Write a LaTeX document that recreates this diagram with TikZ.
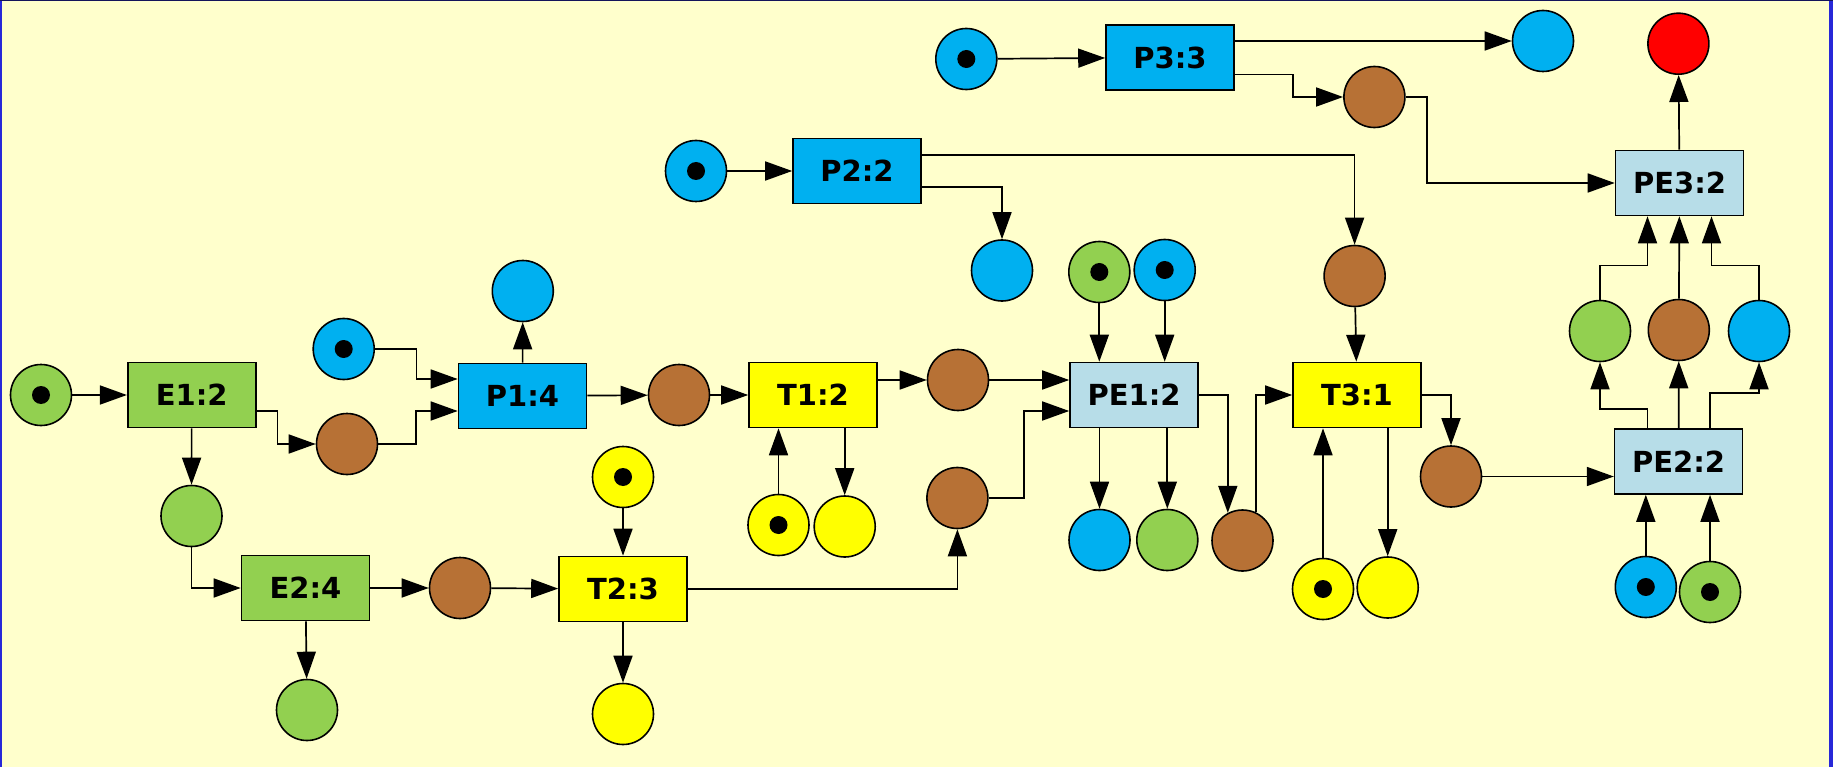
\documentclass[tikz,border=0pt]{standalone}
\usepackage{fontspec}
\setsansfont{DejaVu Sans}
\usetikzlibrary{arrows.meta,calc}

\definecolor{bgyellow}{RGB}{255,255,204}
\definecolor{pgreen}{RGB}{146,208,80}
\definecolor{pblue}{RGB}{0,176,240}
\definecolor{pbrown}{RGB}{183,113,53}
\definecolor{pyellow}{RGB}{255,255,0}
\definecolor{pred}{RGB}{255,0,0}
\definecolor{plight}{RGB}{183,221,232}
\definecolor{frameblue}{RGB}{40,40,216}
\definecolor{framenavy}{RGB}{20,20,90}

\tikzset{
  place/.style={circle, draw, line width=1.6pt, minimum size=61pt, inner sep=0pt},
  token/.style={place, path picture={\fill[black] (path picture bounding box.center) circle (9pt);}},
  trans/.style={rectangle, draw, line width=1.6pt, minimum width=128pt, minimum height=65pt,
    font=\sffamily\bfseries\fontsize{29}{32}\selectfont},
  flow/.style={-{Triangle[length=27pt,width=19pt]}, line width=1.7pt}
}

\begin{document}
\begin{tikzpicture}[x=1pt, y=-1pt]
    % Background and frame
    \useasboundingbox (0,0) rectangle (1833,767);
    \fill[bgyellow] (0,0) rectangle (1833,767);
    \fill[frameblue] (0,0) rectangle (2,767);
    \fill[frameblue] (1829,0) rectangle (1833,767);
    \fill[framenavy] (0,0) rectangle (1833,1.5);

    % Transitions
    \node[trans, fill=pgreen] (E1) at (191.7,395) {E1:2};
    \node[trans, fill=pgreen] (E2) at (305.5,588) {E2:4};
    \node[trans, fill=pblue] (P1) at (522.5,396) {P1:4};
    \node[trans, fill=pblue] (P2) at (857,171) {P2:2};
    \node[trans, fill=pblue] (P3) at (1170,57.5) {P3:3};
    \node[trans, fill=pyellow] (T1) at (813,395) {T1:2};
    \node[trans, fill=pyellow] (T2) at (623,589) {T2:3};
    \node[trans, fill=pyellow] (T3) at (1357,395) {T3:1};
    \node[trans, fill=plight] (PE1) at (1134,395) {PE1:2};
    \node[trans, fill=plight] (PE2) at (1678.6,461.5) {PE2:2};
    \node[trans, fill=plight] (PE3) at (1679.5,183) {PE3:2};

    % Places
    \node[token, fill=pgreen] (gIn) at (41,395) {};
    \node[place, fill=pbrown] (brE1) at (347,444) {};
    \node[place, fill=pgreen] (gE1) at (191.5,516) {};
    \node[place, fill=pgreen] (gE2) at (307,710) {};
    \node[place, fill=pbrown] (brE2) at (460,588) {};
    \node[token, fill=pyellow] (yT2in) at (623,477) {};
    \node[place, fill=pyellow] (yT2out) at (623,714) {};
    \node[token, fill=pblue] (bP1in) at (343.7,349) {};
    \node[place, fill=pblue] (bP1out) at (522.8,291) {};
    \node[place, fill=pbrown] (brP1) at (679,395) {};
    \node[token, fill=pyellow] (yT1in) at (778.5,525) {};
    \node[place, fill=pyellow] (yT1out) at (844.7,526.5) {};
    \node[place, fill=pbrown] (brT1) at (958,380) {};
    \node[place, fill=pbrown] (brT2) at (957.4,498) {};
    \node[token, fill=pgreen] (gPE1in) at (1099.3,272) {};
    \node[token, fill=pblue] (bPE1in) at (1164.7,270) {};
    \node[place, fill=pblue] (bPE1out) at (1099.5,540) {};
    \node[place, fill=pgreen] (gPE1out) at (1167.3,540) {};
    \node[place, fill=pbrown] (brPE1) at (1242.5,540.5) {};
    \node[token, fill=pblue] (bP2in) at (696,171) {};
    \node[place, fill=pblue] (bP2out) at (1002,270.5) {};
    \node[token, fill=pblue] (bP3in) at (966.3,59) {};
    \node[place, fill=pblue] (bP3out) at (1543,41) {};
    \node[place, fill=pbrown] (brP3) at (1374.4,97) {};
    \node[place, fill=pbrown] (brT3in) at (1354.6,276) {};
    \node[token, fill=pyellow] (yT3in) at (1323,589) {};
    \node[place, fill=pyellow] (yT3out) at (1387.7,587.5) {};
    \node[place, fill=pbrown] (brT3) at (1451,476.5) {};
    \node[token, fill=pblue] (bPE2in) at (1645.8,587) {};
    \node[token, fill=pgreen] (gPE2in) at (1710,592) {};
    \node[place, fill=pgreen] (gPE3) at (1600,331) {};
    \node[place, fill=pbrown] (brPE3) at (1678.8,330) {};
    \node[place, fill=pblue] (bPE3) at (1759,331) {};
    \node[place, fill=pred] (red) at (1678.4,43.7) {};

    % E part
    \draw[flow] (gIn) -- (E1);
    \draw[flow] ($(E1.east)+(0,16)$) -- ++(21,0) |- (brE1);
    \draw[flow] (E1) -- (gE1);
    \draw[flow] (gE1) |- (E2);
    \draw[flow] (E2) -- (brE2);
    \draw[flow] (E2) -- (gE2);

    % T2
    \draw[flow] (brE2) -- (T2);
    \draw[flow] (yT2in) -- (T2);
    \draw[flow] (T2) -- (yT2out);
    \draw[flow] (T2) -| (brT2);

    % P1 and T1
    \draw[flow] (bP1in) -- ++(72.7,0) |- ($(P1.west)+(0,-17)$);
    \draw[flow] (brE1) -- ++(69,0) |- ($(P1.west)+(0,15)$);
    \draw[flow] (P1) -- (bP1out);
    \draw[flow] (P1) -- (brP1);
    \draw[flow] (brP1) -- (T1);
    \draw[flow] (T1.east |- brT1) -- (brT1);
    \draw[flow] (yT1in) -- (yT1in |- T1.south);
    \draw[flow] (yT1out |- T1.south) -- (yT1out);

    % PE1
    \draw[flow] (brT1) -- (brT1 -| PE1.west);
    \draw[flow] (brT2) -- ++(66.6,0) |- ($(PE1.west)+(0,16)$);
    \draw[flow] (gPE1in) -- (gPE1in |- PE1.north);
    \draw[flow] (bPE1in) -- (bPE1in |- PE1.north);
    \draw[flow] (bPE1out |- PE1.south) -- (bPE1out);
    \draw[flow] (gPE1out |- PE1.south) -- (gPE1out);
    \draw[flow] (PE1) -| (brPE1.118);
    \draw[flow] (brPE1.64) |- (T3);

    % P2 and P3
    \draw[flow] (bP2in) -- (P2);
    \draw[flow] ($(P2.east)+(0,16)$) -| (bP2out);
    \draw[flow] ($(P2.east)+(0,-16)$) -| (brT3in);
    \draw[flow] (bP3in) -- (P3);
    \draw[flow] (P3.east |- bP3out) -- (bP3out);
    \draw[flow] ($(P3.east)+(0,17)$) -- ++(58,0) |- (brP3);
    \draw[flow] (brP3) -- ++(52.5,0) |- (PE3);

    % T3
    \draw[flow] (brT3in) -- (T3);
    \draw[flow] (yT3in) -- (yT3in |- T3.south);
    \draw[flow] (yT3out |- T3.south) -- (yT3out);
    \draw[flow] (T3) -| (brT3);

    % PE2 and PE3
    \draw[flow] (brT3) -- (brT3 -| PE2.west);
    \draw[flow] (bPE2in) -- (bPE2in |- PE2.south);
    \draw[flow] (gPE2in) -- (gPE2in |- PE2.south);
    \draw[flow] ($(PE2.north)+(-31,0)$) -- ++(0,-19.5) -| (gPE3);
    \draw[flow] (PE2) -- (brPE3);
    \draw[flow] ($(PE2.north)+(31.5,0)$) -- ++(0,-35) -| (bPE3);
    \draw[flow] (gPE3) -- ++(0,-65.5) -| ($(PE3.south)+(-32,0)$);
    \draw[flow] (brPE3) -- (PE3);
    \draw[flow] (bPE3) -- ++(0,-65.5) -| ($(PE3.south)+(32,0)$);
    \draw[flow] (PE3) -- (red);
\end{tikzpicture}
\end{document}
